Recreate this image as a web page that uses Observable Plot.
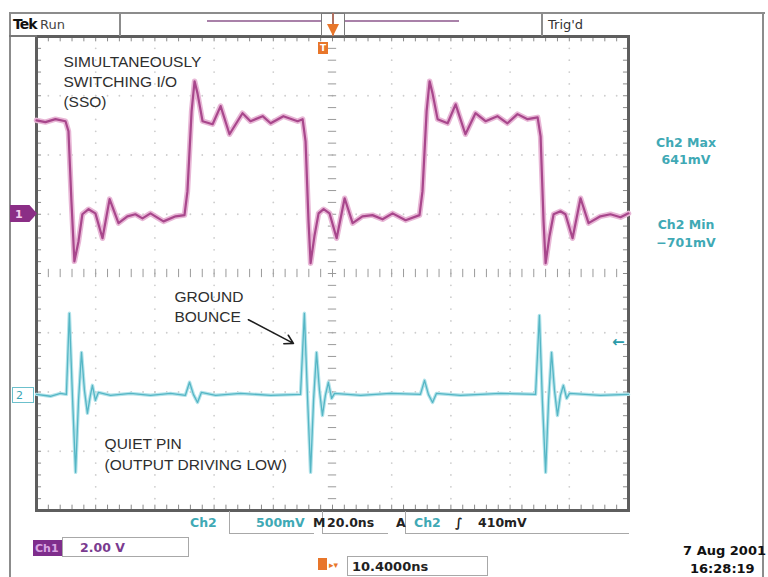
<!DOCTYPE html>
<html><head><meta charset="utf-8">
<script src="https://cdn.jsdelivr.net/npm/d3@7"></script>
<script src="https://cdn.jsdelivr.net/npm/@observablehq/plot@0.6"></script>
<style>
body{margin:0;background:#fff;}
#wrap{position:relative;width:768px;height:577px;overflow:hidden;font-family:"DejaVu Sans",sans-serif;}
#wrap svg{position:absolute;left:0;top:0;}
.l{position:absolute;white-space:nowrap;font-weight:bold;font-size:12px;line-height:1;transform:translateY(-50%);}
.c{transform:translate(-50%,-50%);}
.r{transform:translate(-100%,-50%);}
.ln{position:absolute;background:#8c8c8c;}
.bx{position:absolute;border:1px solid #a8a8a8;box-sizing:border-box;}
</style></head><body><div id="wrap"></div>
<script>
// ---- data ----
// Channel 1 (SSO output), time in ns, level in volts (2.00 V/div, ground at +1 div)
const ch1Samples = [[-100,3.17],[-97,3.11],[-93.6,3.21],[-90.2,3.14],[-89.2,2.8],[-88.2,0.44],[-87.2,-1.59],[-85.8,-0.91],[-84.5,0],[-82.4,0.17],[-80.1,0.03],[-77.7,-0.81],[-75.3,0.51],[-72.3,-0.3],[-69.3,-0.07],[-66.6,0],[-64.2,-0.14],[-61.5,0.03],[-57.1,-0.24],[-53,-0.07],[-50,-0.03],[-49,0.78],[-47.6,3.48],[-46.6,4.49],[-45.6,4.08],[-43.9,3.14],[-40.5,3.04],[-37.8,3.65],[-34.8,2.7],[-30.4,3.41],[-27.7,3.14],[-23.6,3.31],[-20.9,3.07],[-16.6,3.31],[-11.8,3.14],[-10.1,3.21],[-9.1,2.46],[-8.1,-0.24],[-7.4,-1.65],[-6.1,-0.74],[-4.7,0.03],[-3,0.17],[-1,0.03],[1.4,-0.81],[4.1,0.54],[6.8,-0.3],[10.1,-0.07],[13.5,-0.03],[16.9,-0.17],[20.3,0.03],[24.7,-0.2],[29.4,-0.03],[30.4,0.78],[31.8,3.48],[32.8,4.49],[33.8,4.08],[35.5,3.21],[38.9,3.07],[41.6,3.71],[44.9,2.7],[48.3,3.41],[51.7,3.14],[55.7,3.31],[59.1,3.07],[62.5,3.38],[65.9,3.21],[69.3,3.27],[70.3,2.63],[71.3,-0.24],[72,-1.65],[73.3,-0.74],[74.7,0],[77,0.1],[78.7,0],[81.1,-0.81],[83.8,0.54],[86.5,-0.3],[90.5,-0.07],[93.9,0],[97.3,-0.1],[100,0.03]];
// Channel 2 (quiet pin), time in ns, level in mV (500 mV/div, ground at -2.04 div)
const ch2Samples = [[-100,0],[-95.3,-16],[-91.9,8],[-89.9,0],[-88.9,684],[-87.8,-50],[-86.8,-658],[-85.8,-50],[-84.8,354],[-83.8,34],[-82.8,-160],[-81.8,-8],[-81.1,76],[-80.1,-50],[-79.1,16],[-75,-8],[-68.2,8],[-61.5,-8],[-54.7,8],[-49.7,-8],[-48.3,102],[-47,0],[-45.6,-68],[-44.3,16],[-39.5,-8],[-31.1,8],[-20.9,-8],[-10.8,0],[-9.5,684],[-8.4,-50],[-7.4,-658],[-6.4,-50],[-5.4,354],[-4.4,34],[-3.4,-178],[-2.4,-8],[-1.4,102],[-0.3,-34],[0.7,8],[9.5,-8],[19.6,8],[29.7,0],[31.1,118],[32.4,0],[33.8,-68],[35.1,8],[43.2,-8],[56.8,8],[68.6,0],[69.9,666],[70.9,-50],[72,-658],[73,-50],[74,354],[75,34],[76,-178],[77,-8],[78,76],[79.1,-34],[80.1,8],[90.5,-8],[100,0]];
const ch1VoltsPerDiv = 2.0, ch1OffsetDiv = 1.0;
const ch2mVPerDiv = 500, ch2OffsetDiv = -2.04;
const nsPerDiv = 20;
const annotations = [
  {t:-90.9, div:3.26, text:"SIMULTANEOUSLY\nSWITCHING I/O\n(SSO)"},
  {t:-53.4, div:-0.54, text:"GROUND\nBOUNCE"},
  {t:-77.0, div:-3.03, text:"QUIET PIN\n(OUTPUT DRIVING LOW)"}
];
const arrowNote = [{t1:-28.4, d1:-0.78, t2:-13.2, d2:-1.18}];

// ---- derived series ----
const ch1 = ch1Samples.map(([t,v]) => ({t, div: v/ch1VoltsPerDiv + ch1OffsetDiv}));
const ch2 = ch2Samples.map(([t,mv]) => ({t, div: mv/ch2mVPerDiv + ch2OffsetDiv}));

// graticule helpers
const xDivs = d3.range(-5,6).map(i=>i*nsPerDiv);
const minorX = d3.range(-100,100.01,nsPerDiv/5);
const minorY = d3.range(-4,4.001,0.2);
const gridDots = [];
for (const x of xDivs.filter(x=>x!==0 && Math.abs(x)<100)) for (const y of minorY) gridDots.push({t:x, div:y});
for (const y of d3.range(-3,4).filter(y=>y!==0)) for (const x of minorX) gridDots.push({t:x, div:y});

const plot = Plot.plot({
  width:768, height:577,
  marginLeft:36, marginRight:140, marginTop:36, marginBottom:67,
  x:{domain:[-100,100], axis:null},
  y:{domain:[-4,4], axis:null},
  style:{background:"transparent"},
  marks:[
    Plot.dot(gridDots,{x:"t",y:"div",r:0.9,fill:"#cdcdcd",stroke:null}),
    Plot.ruleX(minorX,{x:d=>d,y1:-0.07,y2:0.07,stroke:"#9a9a9a",strokeWidth:1}),
    Plot.ruleY(minorY,{y:d=>d,x1:-1.4,x2:1.4,stroke:"#9a9a9a",strokeWidth:1}),
    Plot.ruleX(minorX,{x:d=>d,y1:4,y2:3.91,stroke:"#8a8a8a",strokeWidth:1}),
    Plot.ruleX(minorX,{x:d=>d,y1:-4,y2:-3.91,stroke:"#8a8a8a",strokeWidth:1}),
    Plot.ruleY(minorY,{y:d=>d,x1:-100,x2:-98.3,stroke:"#8a8a8a",strokeWidth:1}),
    Plot.ruleY(minorY,{y:d=>d,x1:100,x2:98.3,stroke:"#8a8a8a",strokeWidth:1}),
    Plot.frame({stroke:"#5e5e5e",strokeWidth:3}),
    Plot.line(ch2,{x:"t",y:"div",stroke:"#b3e3ea",strokeWidth:3.5,curve:"linear"}),
    Plot.line(ch2,{x:"t",y:"div",stroke:"#55b6c5",strokeWidth:1.3,curve:"linear"}),
    Plot.line(ch1,{x:"t",y:"div",stroke:"#e8b7d6",strokeWidth:5.5,curve:"linear"}),
    Plot.line(ch1,{x:"t",y:"div",stroke:"#a8478c",strokeWidth:2.2,curve:"linear"}),
    Plot.text(annotations,{x:"t",y:"div",text:"text",textAnchor:"start",lineAnchor:"middle",fontSize:15.5,lineHeight:1.3,fill:"#2e2e2e",fontFamily:"Liberation Sans, Arial, sans-serif"}),
    Plot.arrow(arrowNote,{x1:"t1",y1:"d1",x2:"t2",y2:"d2",stroke:"#1e1e1e",strokeWidth:1.6,headLength:9})
  ]
});
const wrap = document.getElementById("wrap");
wrap.appendChild(plot);

// ---- oscilloscope screen chrome (HTML overlay) ----
function el(cls, css, text){const d=document.createElement("div");d.className=cls;d.style.cssText=css;if(text!=null)d.textContent=text;wrap.appendChild(d);return d;}
// frame lines
el("ln","left:9px;top:12px;width:756px;height:2px;");
el("ln","left:9px;top:12px;width:2px;height:565px;");
el("ln","left:762px;top:12px;width:2px;height:565px;");
el("ln","left:9px;top:35px;width:28px;height:2px;background:#777;");
el("ln","left:119px;top:13px;width:1.5px;height:23px;");
el("ln","left:541px;top:13px;width:1.5px;height:23px;");
el("ln","left:207px;top:20px;width:252px;height:2px;background:#a981a9;");
el("bx","left:321px;top:13px;width:24px;height:23px;border:1.5px solid #7a7a7a;background:#fff;");
el("ln","left:332px;top:13px;width:1.5px;height:23px;background:#b07060;");
el("","position:absolute;left:327px;top:24px;width:0;height:0;border-left:6px solid transparent;border-right:6px solid transparent;border-top:12px solid #e8762a;");
el("l","left:13px;top:24px;font-size:14px;color:#111;letter-spacing:-1px;","Tek");
el("l","left:40px;top:24px;font-size:13px;color:#444;font-weight:normal;","Run");
el("l","left:548px;top:24px;font-size:13px;color:#333;font-weight:normal;","Trig'd");
// trigger T marker on graticule
el("","position:absolute;left:318px;top:42px;width:10px;height:12px;background:#e8762a;");
el("l","left:320px;top:48px;font-size:9px;color:#fff;","T");
// channel markers
el("","position:absolute;left:10px;top:205px;width:27px;height:17px;background:#8b2e86;clip-path:polygon(0 0,72% 0,100% 50%,72% 100%,0 100%);");
el("l","left:15px;top:214px;font-size:11px;color:#f4d0ee;","1");
el("bx","left:12px;top:387px;width:22px;height:16px;border:1.5px solid #6cc0cc;");
el("l","left:16px;top:395px;font-size:11px;color:#3ca6b4;font-weight:normal;","2");
el("l","left:612px;top:342px;font-size:15px;color:#2a9aa8;","\u2190");
// right readouts
const teal="#3fa9b5";
el("l c","left:686px;top:143px;font-size:12.5px;color:"+teal+";","Ch2 Max");
el("l c","left:686px;top:160px;font-size:12.5px;color:"+teal+";","641mV");
el("l c","left:686px;top:225px;font-size:12.5px;color:"+teal+";","Ch2 Min");
el("l c","left:686px;top:243px;font-size:12.5px;color:"+teal+";","\u2212701mV");
// bottom readouts
el("bx","left:229px;top:511px;width:85px;height:23px;border-top:none;border-right:none;");
el("bx","left:322px;top:511px;width:66px;height:23px;border-top:none;border-right:none;");
el("bx","left:405px;top:511px;width:224px;height:23px;border-top:none;border-right:none;");
el("l","left:190px;top:523px;font-size:12.5px;color:"+teal+";","Ch2");
el("l","left:256px;top:523px;font-size:12.5px;color:"+teal+";","500mV");
el("l","left:313px;top:523px;font-size:12.5px;color:#222;","M");
el("l","left:327px;top:523px;font-size:12.5px;color:#222;","20.0ns");
el("l","left:396px;top:523px;font-size:12.5px;color:#222;","A");
el("l","left:414px;top:523px;font-size:12.5px;color:"+teal+";","Ch2");
el("l","left:455px;top:523px;font-size:12.5px;color:#222;","\u222B");
el("l","left:478px;top:523px;font-size:12.5px;color:#222;","410mV");
el("bx","left:62px;top:537px;width:127px;height:20px;");
el("","position:absolute;left:33px;top:540px;width:29px;height:16px;background:#7f2d8c;");
el("l","left:35px;top:548px;font-size:11px;color:#d9a6e3;","Ch1");
el("l","left:80px;top:548px;font-size:12.5px;color:#7a3b8f;","2.00 V");
el("","position:absolute;left:318px;top:558px;width:9px;height:12px;background:#e8762a;");
el("l","left:329px;top:565px;font-size:9px;color:#e8762a;","\u25B8\u25BE");
el("bx","left:347px;top:556px;width:141px;height:20px;");
el("l","left:352px;top:566px;font-size:13px;color:#222;","10.4000ns");
el("l r","left:766px;top:550px;font-size:13px;color:#111;","7 Aug 2001");
el("l","left:690px;top:568px;font-size:13px;color:#111;","16:28:19");
</script></body></html>
